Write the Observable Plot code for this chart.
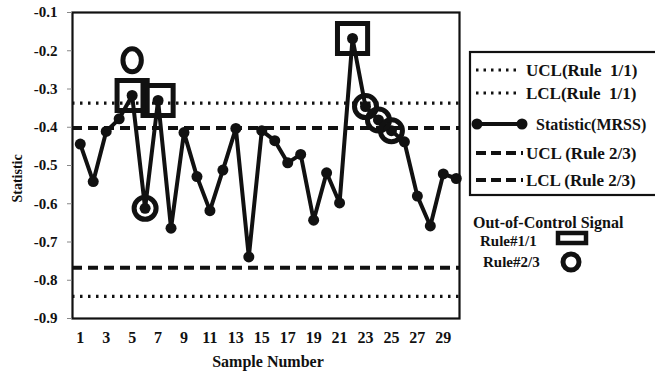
<!DOCTYPE html>
<html><head><meta charset="utf-8">
<script src="https://cdn.jsdelivr.net/npm/d3@7"></script>
<script src="https://cdn.jsdelivr.net/npm/@observablehq/plot@0.6"></script>
<style>
body{margin:0;background:#fff;}
#wrap{position:relative;width:655px;height:375px;overflow:hidden;}
#wrap svg{font-family:"Liberation Serif","Times New Roman",serif !important;font-weight:bold;}
#legend{position:absolute;left:0;top:0;}
</style></head><body><div id="wrap"></div>
<script>
const samples = d3.range(1, 31);
const statistic = [-0.444,-0.542,-0.411,-0.378,-0.317,-0.612,-0.330,-0.664,-0.414,-0.529,
  -0.618,-0.512,-0.403,-0.739,-0.409,-0.435,-0.493,-0.471,-0.643,-0.519,
  -0.598,-0.168,-0.346,-0.381,-0.409,-0.438,-0.580,-0.658,-0.522,-0.534];
const ucl11 = -0.337, lcl11 = -0.842, ucl23 = -0.402, lcl23 = -0.767;
const rule11Signals = [5, 7, 22];
const rule23Signals = [6, 23, 24, 25];
const rule23Extra = [{sample: 5, value: -0.225}];
const xTicks = [1,3,5,7,9,11,13,15,17,19,21,23,25,27,29];
const yTicks = [-0.9,-0.8,-0.7,-0.6,-0.5,-0.4,-0.3,-0.2,-0.1];
const legendItems = ["UCL(Rule  1/1)", "LCL(Rule  1/1)", "Statistic(MRSS)", "UCL (Rule 2/3)", "LCL (Rule 2/3)"];

const data = samples.map((s, i) => ({sample: s, value: statistic[i]}));
const sig11 = data.filter(d => rule11Signals.includes(d.sample));
const sig23 = data.filter(d => rule23Signals.includes(d.sample));

const ellipse = {draw(ctx, size) {
  const r = Math.sqrt(size / Math.PI), rx = r * 0.8, ry = r, k = 0.5523;
  ctx.moveTo(rx, 0);
  ctx.bezierCurveTo(rx, ry * k, rx * k, ry, 0, ry);
  ctx.bezierCurveTo(-rx * k, ry, -rx, ry * k, -rx, 0);
  ctx.bezierCurveTo(-rx, -ry * k, -rx * k, -ry, 0, -ry);
  ctx.bezierCurveTo(rx * k, -ry, rx, -ry * k, rx, 0);
  ctx.closePath();
}};

const font = "'Liberation Serif', 'Times New Roman', serif";
const plot = Plot.plot({
  width: 655, height: 375,
  marginLeft: 72, marginRight: 196, marginTop: 12, marginBottom: 57,
  style: {fontFamily: font, fontWeight: "bold", background: "#fff", color: "#111"},
  x: {domain: [0.4, 30.25]},
  y: {domain: [-0.9, -0.1]},
  marks: [
    Plot.ruleY([ucl11, lcl11], {stroke: "#111", strokeWidth: 3.2, strokeDasharray: "2.5,5.5"}),
    Plot.ruleY([ucl23, lcl23], {stroke: "#111", strokeWidth: 4, strokeDasharray: "10,6"}),
    Plot.line(data, {x: "sample", y: "value", stroke: "#111", strokeWidth: 4}),
    Plot.dot(data, {x: "sample", y: "value", r: 5.5, fill: "#111"}),
    Plot.dot(sig11, {x: "sample", y: "value", symbol: "square", r: 17, stroke: "#111", strokeWidth: 5}),
    Plot.dot(sig23, {x: "sample", y: "value", r: 11, stroke: "#111", strokeWidth: 5}),
    Plot.dot(rule23Extra, {x: "sample", y: "value", symbol: ellipse, r: 11.5, stroke: "#111", strokeWidth: 5}),
    Plot.frame({stroke: "#111", strokeWidth: 2.2}),
    Plot.axisY({ticks: yTicks, tickFormat: d => d.toFixed(1), tickSize: 5, tickPadding: 10, fontSize: 15, label: null, stroke: "#888"}),
    Plot.axisX({ticks: xTicks, tickFormat: d => String(d), tickSize: 0, tickPadding: 13, fontSize: 16, label: null}),
    Plot.text(["Statistic"], {frameAnchor: "left", dx: -55, dy: 37, rotate: -90, fontSize: 14, fill: "#111"}),
    Plot.text(["Sample Number"], {frameAnchor: "bottom", dx: 2, dy: 48, fontSize: 16, fill: "#111"})
  ]
});
const wrap = document.getElementById("wrap");
wrap.appendChild(plot);

// legend overlay
const svg = d3.select(wrap).append("svg").attr("id", "legend")
  .attr("width", 655).attr("height", 375)
  .style("font-family", font).style("font-weight", "bold");
svg.append("rect").attr("x", 470).attr("y", 52).attr("width", 200).attr("height", 143)
  .attr("fill", "none").attr("stroke", "#111").attr("stroke-width", 2.2);
const rowsY = [70, 93, 124, 153, 180];
legendItems.forEach((t, i) => {
  const y = rowsY[i];
  const g = svg.append("g");
  if (i === 2) {
    g.append("line").attr("x1", 477).attr("x2", 522).attr("y1", y).attr("y2", y)
      .attr("stroke", "#111").attr("stroke-width", 4);
    g.append("circle").attr("cx", 477).attr("cy", y).attr("r", 5.5).attr("fill", "#111");
    g.append("circle").attr("cx", 522).attr("cy", y).attr("r", 5.5).attr("fill", "#111");
  } else {
    const dotted = i < 2;
    g.append("line").attr("x1", 476).attr("x2", dotted ? 520 : 523).attr("y1", y).attr("y2", y)
      .attr("stroke", "#111").attr("stroke-width", dotted ? 3.2 : 4)
      .attr("stroke-dasharray", dotted ? "2.5,5" : "10,5");
  }
  g.append("text").attr("x", i === 2 ? 536 : 526).attr("y", y).attr("dy", "0.35em")
    .attr("font-size", i === 2 ? 16 : 17).attr("fill", "#111").style("white-space", "pre").text(t);
});
svg.append("text").attr("x", 473).attr("y", 222).attr("dy", "0.35em").attr("font-size", 16)
  .attr("fill", "#111").text("Out-of-Control Signal");
svg.append("text").attr("x", 480).attr("y", 241).attr("dy", "0.35em").attr("font-size", 15)
  .attr("fill", "#111").text("Rule#1/1");
svg.append("text").attr("x", 483).attr("y", 262).attr("dy", "0.35em").attr("font-size", 15)
  .attr("fill", "#111").text("Rule#2/3");
svg.append("rect").attr("x", 558).attr("y", 233).attr("width", 28).attr("height", 10)
  .attr("fill", "none").attr("stroke", "#111").attr("stroke-width", 4.5);
svg.append("circle").attr("cx", 571).attr("cy", 262).attr("r", 8)
  .attr("fill", "none").attr("stroke", "#111").attr("stroke-width", 5);
</script></body></html>
